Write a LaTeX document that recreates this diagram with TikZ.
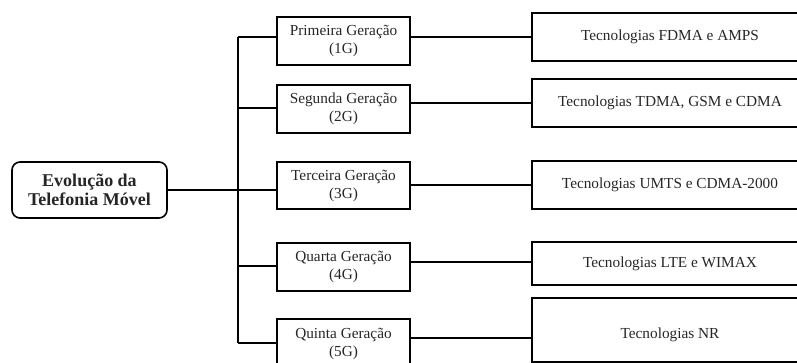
\documentclass[tikz,border=0pt]{standalone}
\usepackage{fontspec}
\setmainfont{Liberation Serif}
\begin{document}
\begin{tikzpicture}[x=1pt,y=-1pt,
  box/.style={draw=black, line width=1.6pt, inner sep=0pt, align=center,
    text=black!85, font=\fontsize{15.3}{18}\selectfont},
  genbox/.style={box, minimum width=133pt, minimum height=48pt},
  techbox/.style={box, minimum width=276pt, minimum height=48pt},
  rootbox/.style={box, rounded corners=8pt, minimum width=155pt, minimum height=56pt,
    font=\fontsize{18}{19.5}\selectfont\bfseries},
  link/.style={draw=black, line width=1.3pt}]
\useasboundingbox (0,0) rectangle (797,363);
\clip (0,0) rectangle (797,363);

% root
\node[rootbox] (root) at (89.5,190) {Evolução da\\Telefonia Móvel};

% generations
\node[genbox] (g1) at (343.5,41) {Primeira Geração\\(1G)};
\node[genbox] (g2) at (343.5,109) {Segunda Geração\\(2G)};
\node[genbox, minimum height=47pt] (g3) at (343.5,185.5) {Terceira Geração\\(3G)};
\node[genbox] (g4) at (343.5,267) {Quarta Geração\\(4G)};
\node[genbox, minimum height=50pt] (g5) at (343.5,344) {Quinta Geração\\(5G)};

% technologies
\node[techbox] (t1) at (670,37) {Tecnologias FDMA e AMPS};
\node[techbox] (t2) at (670,103) {Tecnologias TDMA, GSM e CDMA};
\node[techbox] (t3) at (670,185) {Tecnologias UMTS e CDMA-2000};
\node[techbox, minimum height=43pt] (t4) at (670,263.5) {Tecnologias LTE e WIMAX};
\node[techbox, minimum height=64pt] (t5) at (670,330) {\raisebox{-5pt}[\height][\depth]{Tecnologias NR}};

% spine of the tree
\coordinate (s1) at (238,37);
\coordinate (s2) at (238,108);
\coordinate (s3) at (238,190);
\coordinate (s4) at (238,266);
\coordinate (s5) at (238,343);
\path[link] (s1) -- (s5);
\path[link] (root.east) -- (s3);
\foreach \i in {1,...,5} {
  \path[link] (s\i) -- (g\i.west |- s\i);
}

% links from generations to technologies
\coordinate (k1) at (0,37);
\coordinate (k2) at (0,103);
\coordinate (k3) at (0,185);
\coordinate (k4) at (0,262);
\coordinate (k5) at (0,338);
\foreach \i in {1,...,5} {
  \path[link] (g\i.east |- k\i) -- (t\i.west |- k\i);
}
\end{tikzpicture}
\end{document}
